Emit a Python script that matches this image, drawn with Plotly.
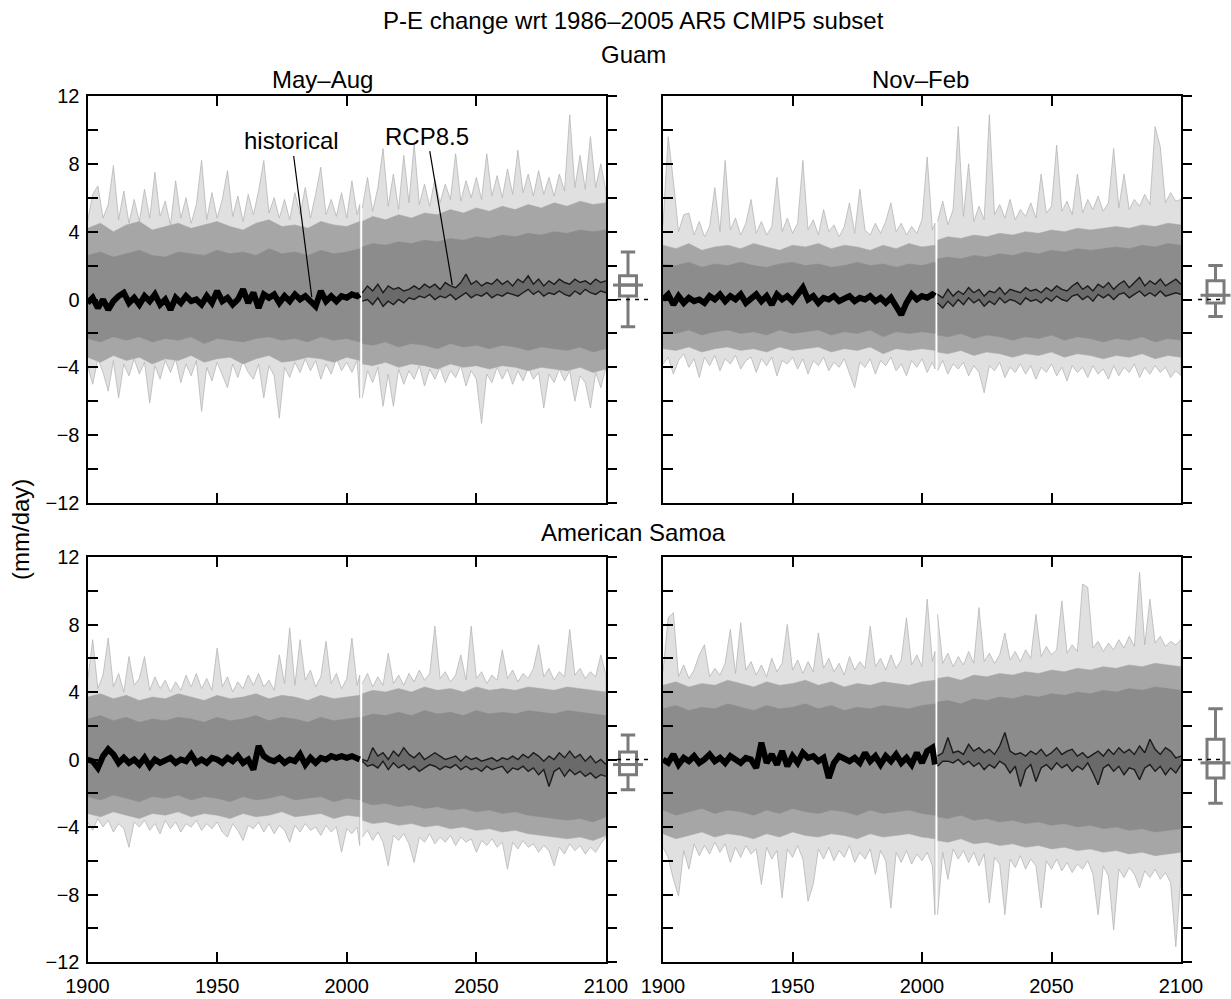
import plotly.graph_objects as go

W, H = 1231, 999
FONT = "Liberation Sans, Arial, Helvetica, sans-serif"

# ---------------- data ----------------
years_hist = list(range(1900, 2005, 2)) + [2005]
years_rcp = list(range(2006, 2101, 2))
years_hist_5 = list(range(1900, 2006, 5))
years_rcp_5 = [2006] + list(range(2010, 2101, 5))

panel_names = ["Guam May–Aug", "Guam Nov–Feb", "American Samoa May–Aug", "American Samoa Nov–Feb"]

# ---- Guam, May–Aug ----
gm_hist_max = [4.6, 6.2, 6.7, 4.8, 5.6, 7.9, 4.7, 6.4, 4.5, 5.9,
               4.6, 6.5, 4.8, 7.5, 4.9, 5.8, 4.4, 7.0, 4.8, 6.0,
               4.5, 5.6, 8.2, 4.7, 6.3, 4.8, 5.9, 7.6, 4.9, 6.1,
               4.6, 6.2, 5.0, 6.4, 8.2, 5.1, 6.0, 4.8, 5.9, 4.7,
               6.3, 5.0, 6.6, 4.8, 6.2, 7.8, 5.0, 5.9, 4.9, 6.3,
               4.8, 7.0, 5.0, 5.6]
gm_hist_min = [-3.9, -5.0, -3.5, -4.3, -5.4, -3.6, -5.8, -3.8, -4.5, -3.5,
               -4.4, -3.7, -6.1, -3.9, -4.7, -3.6, -4.3, -3.5, -4.9, -3.8,
               -4.5, -3.6, -6.6, -4.0, -4.8, -3.7, -4.4, -5.2, -3.8, -4.6,
               -3.6, -4.3, -4.7, -3.8, -5.8, -3.9, -4.5, -7.0, -4.0, -4.6,
               -3.7, -4.3, -3.5, -4.2, -3.6, -4.7, -3.8, -4.4, -3.5, -4.2,
               -3.7, -4.3, -3.6, -5.8]
gm_rcp_max = [5.4, 7.2, 5.2, 6.6, 8.9, 5.5, 7.4, 5.3, 8.5, 5.7,
              9.2, 5.6, 6.8, 5.5, 7.1, 5.7, 6.8, 5.9, 8.6, 5.8,
              7.0, 6.0, 7.2, 5.9, 8.6, 6.1, 7.3, 6.0, 7.7, 6.2,
              8.8, 6.3, 7.4, 6.1, 7.6, 6.2, 7.2, 6.1, 7.4, 6.4,
              10.9, 6.6, 8.5, 6.5, 9.6, 6.6, 8.0, 6.4]
gm_rcp_min = [-5.8, -4.2, -4.9, -4.0, -6.3, -4.4, -6.3, -4.1, -5.0, -4.2,
              -4.7, -3.9, -5.1, -4.1, -4.7, -4.0, -4.9, -4.2, -4.6, -3.9,
              -5.1, -4.2, -4.7, -7.3, -4.4, -4.9, -4.0, -4.7, -4.1, -5.0,
              -4.2, -4.8, -4.0, -4.7, -4.3, -6.4, -4.4, -4.9, -4.1, -4.8,
              -4.2, -6.0, -4.5, -4.9, -6.4, -4.3, -5.2, -4.0]
gm_hist_halo_hi = [4.2, 4.5, 4.0, 4.4, 4.6, 4.1, 4.3, 4.5, 4.2, 4.4,
                   4.6, 4.3, 4.1, 4.5, 4.7, 4.3, 4.4, 4.2, 4.6, 4.4, 4.3, 4.6]
gm_hist_halo_lo = [-3.4, -3.7, -3.3, -3.6, -3.4, -3.8, -3.5, -3.6, -3.3, -3.7,
                   -3.5, -3.4, -3.8, -3.5, -3.3, -3.7, -3.6, -3.4, -3.5, -3.7, -3.4, -3.6]
gm_rcp_halo_hi = [4.6, 4.9, 4.7, 5.0, 4.8, 5.1, 5.0, 5.3, 5.1, 5.4,
                  5.2, 5.5, 5.3, 5.6, 5.4, 5.7, 5.5, 5.8, 5.6, 5.7]
gm_rcp_halo_lo = [-3.8, -3.9, -3.7, -4.0, -3.8, -3.9, -4.1, -3.8, -4.0, -3.9,
                  -4.1, -3.9, -4.0, -4.2, -4.0, -4.1, -4.2, -4.0, -4.3, -4.1]
gm_hist_core_hi = [2.6, 2.8, 2.5, 2.7, 2.9, 2.6, 2.5, 2.8, 2.7, 2.6,
                   2.9, 2.7, 2.8, 2.6, 3.0, 2.7, 2.8, 2.6, 2.9, 2.7, 2.8, 3.0]
gm_hist_core_lo = [-2.3, -2.5, -2.2, -2.4, -2.2, -2.5, -2.3, -2.4, -2.2, -2.6,
                   -2.3, -2.4, -2.5, -2.3, -2.2, -2.4, -2.3, -2.5, -2.2, -2.4, -2.3, -2.5]
gm_rcp_core_hi = [3.1, 3.3, 3.2, 3.4, 3.3, 3.5, 3.4, 3.6, 3.5, 3.7,
                  3.6, 3.8, 3.7, 3.9, 3.8, 4.0, 3.9, 4.1, 4.0, 4.1]
gm_rcp_core_lo = [-2.6, -2.7, -2.5, -2.8, -2.6, -2.7, -2.9, -2.6, -2.8, -2.7,
                  -2.9, -2.7, -2.8, -3.0, -2.8, -2.9, -3.0, -2.8, -3.1, -2.9]
gm_hist_mean = [-0.2, 0.1, -0.5, 0.0, -0.6, -0.1, 0.2, 0.4, -0.2, 0.1,
                -0.3, 0.2, -0.1, 0.3, -0.3, 0.0, -0.6, 0.1, -0.2, 0.2,
                -0.1, 0.0, -0.3, 0.2, -0.2, 0.5, -0.1, 0.1, -0.3, 0.0,
                0.6, -0.2, 0.4, -0.5, 0.3, 0.1, 0.3, -0.2, 0.2, -0.1,
                0.3, 0.0, 0.2, -0.1, -0.4, 0.5, -0.1, 0.2, -0.1, 0.2,
                0.1, 0.3, 0.2, 0.3]
gm_rcp_hi = [0.4, 0.8, 0.5, 0.9, 0.4, 0.8, 0.6, 0.7, 0.5, 0.6,
             0.8, 0.6, 0.9, 0.7, 0.9, 0.6, 1.0, 0.8, 0.7, 1.0,
             1.5, 0.9, 1.1, 0.8, 1.0, 0.9, 1.2, 0.9, 1.1, 0.8,
             1.2, 1.0, 1.4, 0.9, 1.2, 0.8, 1.1, 0.9, 1.2, 1.0,
             0.9, 1.2, 1.0, 1.1, 0.9, 1.2, 1.0, 1.1]
gm_rcp_lo = [-0.1, 0.0, -0.3, 0.1, -0.4, -0.1, -0.3, 0.0, -0.2, 0.1,
             0.0, 0.2, 0.1, 0.3, 0.0, 0.2, 0.1, 0.3, 0.0, 0.2,
             0.4, 0.1, 0.3, 0.2, 0.4, 0.1, 0.3, 0.2, 0.4, 0.3,
             0.2, 0.4, 0.6, 0.3, 0.5, 0.2, 0.4, 0.3, 0.5, 0.3,
             0.2, 0.5, 0.3, 0.6, 0.4, 0.3, 0.5, 0.4]

# ---- Guam, Nov–Feb ----
gn_hist_max = [4.4, 9.6, 7.0, 4.0, 5.0, 5.1, 3.8, 4.6, 3.7, 4.3,
               6.6, 4.0, 8.2, 4.1, 4.8, 3.8, 4.5, 5.9, 3.9, 4.6,
               3.8, 4.3, 7.2, 4.0, 4.8, 3.9, 4.5, 8.2, 4.1, 4.7,
               3.8, 5.3, 4.0, 4.4, 3.7, 4.3, 5.7, 3.9, 6.5, 4.1,
               3.8, 4.5, 3.9, 4.6, 5.7, 4.0, 4.5, 3.8, 4.3, 3.9,
               4.7, 8.4, 4.1, 4.5]
gn_hist_min = [-3.8, -3.4, -4.4, -3.6, -3.2, -4.0, -3.5, -4.6, -3.4, -3.9,
               -3.3, -4.2, -3.5, -3.8, -3.3, -4.1, -3.6, -3.4, -4.3, -3.5,
               -3.9, -3.4, -4.5, -3.6, -3.8, -3.4, -4.1, -3.5, -4.4, -3.6,
               -3.9, -3.4, -4.2, -3.7, -4.0, -3.5, -4.3, -5.2, -3.7, -4.0,
               -3.5, -4.4, -3.6, -3.9, -3.4, -4.2, -3.8, -4.5, -3.6, -4.0,
               -3.5, -4.3, -3.7, -4.1]
gn_rcp_max = [4.6, 5.8, 4.4, 5.3, 10.2, 4.9, 8.0, 4.6, 5.5, 4.7,
              10.9, 5.0, 5.6, 4.8, 5.9, 4.7, 5.3, 4.9, 5.7, 4.8,
              7.4, 5.1, 5.5, 9.1, 5.2, 5.8, 5.0, 7.4, 5.1, 5.9,
              5.3, 6.1, 5.2, 5.7, 8.9, 5.4, 7.4, 5.3, 5.9, 5.5,
              6.2, 5.6, 10.2, 9.0, 5.7, 6.3, 5.8, 5.9]
gn_rcp_min = [-4.2, -3.6, -4.4, -3.8, -4.1, -3.7, -4.5, -3.9, -4.3, -5.5,
              -3.9, -4.2, -3.7, -4.6, -4.0, -4.3, -3.8, -4.4, -3.9, -4.7,
              -4.0, -4.3, -3.8, -4.5, -4.0, -4.8, -3.9, -4.3, -4.0, -4.6,
              -3.9, -4.4, -4.1, -4.7, -3.9, -4.5, -4.0, -4.3, -3.8, -4.6,
              -4.0, -4.4, -3.9, -4.3, -4.0, -4.6, -4.2, -4.5]
gn_hist_halo_hi = [3.2, 3.0, 3.3, 2.9, 3.1, 3.2, 3.0, 3.3, 3.1, 2.9,
                   3.2, 3.1, 3.3, 3.0, 3.2, 3.1, 2.9, 3.2, 3.0, 3.3, 3.1, 3.2]
gn_hist_halo_lo = [-2.9, -3.0, -2.8, -3.1, -2.9, -2.8, -3.0, -2.9, -3.1, -2.8,
                   -3.0, -2.9, -2.8, -3.1, -2.9, -3.0, -2.8, -3.2, -2.9, -3.0, -2.9, -3.0]
gn_rcp_halo_hi = [3.5, 3.7, 3.6, 3.8, 3.7, 3.9, 3.8, 4.0, 3.9, 4.1,
                  4.0, 4.2, 4.1, 4.2, 4.3, 4.2, 4.4, 4.3, 4.5, 4.4]
gn_rcp_halo_lo = [-3.1, -3.2, -3.0, -3.3, -3.1, -3.2, -3.4, -3.2, -3.3, -3.1,
                  -3.4, -3.2, -3.3, -3.5, -3.3, -3.4, -3.2, -3.5, -3.3, -3.4]
gn_hist_core_hi = [2.1, 2.0, 2.2, 1.9, 2.1, 2.0, 2.2, 2.0, 1.9, 2.1,
                   2.2, 2.0, 2.1, 1.9, 2.0, 2.2, 2.0, 2.1, 1.9, 2.1, 2.0, 2.2]
gn_hist_core_lo = [-1.9, -2.0, -1.8, -2.1, -1.9, -1.8, -2.0, -1.9, -2.1, -1.8,
                   -2.0, -1.9, -1.8, -2.1, -1.9, -2.0, -1.8, -2.2, -1.9, -2.0, -1.9, -2.0]
gn_rcp_core_hi = [2.4, 2.5, 2.4, 2.6, 2.5, 2.7, 2.6, 2.8, 2.7, 2.9,
                  2.8, 3.0, 2.9, 3.0, 3.1, 3.0, 3.2, 3.1, 3.3, 3.2]
gn_rcp_core_lo = [-2.1, -2.2, -2.0, -2.3, -2.1, -2.2, -2.4, -2.2, -2.3, -2.1,
                  -2.4, -2.2, -2.3, -2.5, -2.3, -2.4, -2.2, -2.5, -2.3, -2.4]
gn_hist_mean = [0.0, 0.3, -0.3, 0.2, -0.2, 0.1, -0.1, 0.0, -0.2, 0.2,
                0.0, 0.3, -0.1, 0.2, 0.0, 0.3, -0.2, 0.1, 0.3, -0.1,
                0.2, -0.3, 0.3, 0.0, 0.2, -0.1, 0.3, 0.7, 0.0, 0.2,
                -0.2, 0.1, 0.0, 0.2, -0.1, 0.1, 0.2, -0.1, 0.1, 0.0,
                0.2, -0.1, 0.1, -0.2, 0.1, -0.4, -0.9, -0.2, 0.3, 0.0,
                0.2, 0.1, 0.3, 0.2]
gn_rcp_hi = [0.3, 0.1, 0.6, 0.2, 0.5, 0.3, 0.7, 0.4, 0.6, 0.2,
             0.5, 0.4, 0.7, 0.3, 0.6, 0.5, 0.4, 0.7, 0.5, 0.6,
             0.4, 0.7, 0.5, 0.8, 0.6, 0.5, 0.8, 1.0, 0.6, 0.8,
             0.5, 0.9, 0.7, 1.0, 0.6, 0.9, 1.1, 0.7, 1.0, 1.3,
             0.8, 1.1, 0.9, 1.2, 0.8, 1.0, 1.2, 0.9]
gn_rcp_lo = [-0.2, -0.5, -0.1, -0.4, 0.0, -0.3, 0.1, -0.2, 0.0, -0.4,
             -0.1, -0.3, 0.1, -0.2, 0.0, -0.1, -0.3, 0.1, -0.1, 0.0,
             -0.2, 0.1, -0.1, 0.2, 0.0, -0.1, 0.2, 0.3, 0.0, 0.2,
             -0.1, 0.3, 0.1, 0.3, 0.0, 0.3, 0.4, 0.1, 0.3, 0.5,
             0.2, 0.4, 0.2, 0.5, 0.2, 0.3, 0.4, 0.3]

# ---- American Samoa, May–Aug ----
sm_hist_max = [4.6, 7.1, 4.2, 5.0, 7.2, 4.3, 5.1, 4.0, 6.1, 4.4,
               4.8, 6.1, 4.1, 4.9, 4.2, 4.7, 4.0, 4.6, 4.1, 5.0,
               4.3, 5.1, 4.2, 4.8, 4.1, 6.6, 4.3, 4.9, 4.0, 4.6,
               4.2, 5.0, 4.4, 5.1, 4.3, 4.7, 4.1, 6.2, 4.5, 7.8,
               4.4, 7.1, 4.7, 5.3, 4.3, 4.9, 7.0, 4.5, 5.1, 4.2,
               4.8, 7.2, 4.4, 5.0]
sm_hist_min = [-3.7, -4.2, -3.5, -4.0, -3.6, -4.3, -3.8, -4.1, -5.2, -3.7,
               -4.0, -3.6, -4.2, -3.8, -4.4, -3.6, -4.1, -3.7, -4.3, -3.8,
               -4.0, -3.6, -4.2, -3.8, -4.1, -3.7, -4.3, -4.6, -3.8, -4.2,
               -4.8, -3.9, -4.1, -3.7, -4.3, -3.8, -4.4, -3.9, -4.2, -4.9,
               -3.9, -4.3, -3.8, -4.2, -4.0, -4.5, -3.9, -4.3, -4.0, -5.5,
               -4.1, -4.4, -4.0, -5.1]
sm_rcp_max = [4.5, 5.1, 4.3, 4.9, 4.4, 6.3, 4.5, 5.0, 4.4, 5.1,
              4.6, 5.3, 4.7, 5.1, 7.9, 4.8, 5.2, 4.6, 5.0, 6.2,
              4.7, 7.9, 4.8, 5.2, 4.5, 5.0, 4.7, 6.5, 4.8, 5.3,
              4.6, 5.1, 4.8, 5.4, 6.8, 4.9, 5.4, 4.7, 5.2, 4.9,
              7.7, 5.0, 5.4, 4.8, 5.2, 4.9, 6.2, 5.0]
sm_rcp_min = [-4.6, -4.2, -4.8, -4.3, -4.9, -6.3, -4.5, -4.8, -4.4, -5.0,
              -6.1, -4.6, -4.9, -4.4, -5.0, -4.6, -4.9, -4.5, -5.1, -4.6,
              -4.9, -4.7, -5.5, -4.8, -5.1, -4.7, -5.2, -4.9, -6.5, -4.9,
              -5.3, -4.8, -5.2, -5.0, -5.5, -5.1, -5.4, -6.3, -5.2, -5.6,
              -5.0, -5.4, -5.1, -5.6, -5.2, -5.5, -5.0, -4.6]
sm_hist_halo_hi = [3.7, 3.9, 3.6, 3.8, 3.5, 3.7, 3.6, 3.9, 3.7, 3.5,
                   3.8, 3.6, 3.7, 3.9, 3.6, 3.8, 3.7, 3.5, 3.8, 3.6, 3.7, 3.8]
sm_hist_halo_lo = [-3.2, -3.4, -3.1, -3.3, -3.5, -3.2, -3.3, -3.1, -3.4, -3.2,
                   -3.3, -3.5, -3.2, -3.4, -3.3, -3.1, -3.4, -3.3, -3.2, -3.5, -3.3, -3.4]
sm_rcp_halo_hi = [3.9, 4.1, 4.0, 4.2, 4.0, 4.3, 4.1, 4.2, 4.0, 4.3,
                  4.1, 4.2, 4.1, 4.3, 4.2, 4.1, 4.3, 4.2, 4.1, 4.0]
sm_rcp_halo_lo = [-3.6, -3.8, -3.7, -3.9, -3.8, -4.0, -3.9, -4.1, -4.0, -4.2,
                  -4.1, -4.3, -4.2, -4.4, -4.5, -4.6, -4.7, -4.6, -4.8, -4.5]
sm_hist_core_hi = [2.4, 2.6, 2.3, 2.5, 2.2, 2.4, 2.3, 2.5, 2.4, 2.2,
                   2.5, 2.3, 2.4, 2.6, 2.3, 2.5, 2.4, 2.2, 2.5, 2.3, 2.4, 2.5]
sm_hist_core_lo = [-2.2, -2.4, -2.1, -2.3, -2.5, -2.2, -2.3, -2.1, -2.4, -2.2,
                   -2.3, -2.5, -2.2, -2.4, -2.3, -2.1, -2.4, -2.3, -2.2, -2.5, -2.3, -2.4]
sm_rcp_core_hi = [2.5, 2.7, 2.6, 2.8, 2.6, 2.9, 2.7, 2.8, 2.6, 2.9,
                  2.7, 2.8, 2.7, 2.9, 2.8, 2.7, 2.9, 2.8, 2.7, 2.6]
sm_rcp_core_lo = [-2.5, -2.7, -2.6, -2.8, -2.7, -2.9, -2.8, -3.0, -2.9, -3.1,
                  -3.0, -3.2, -3.1, -3.3, -3.4, -3.5, -3.6, -3.5, -3.7, -3.4]
sm_hist_mean = [0.0, -0.1, -0.5, 0.2, 0.6, 0.3, -0.2, 0.1, -0.2, 0.0,
                -0.3, 0.1, -0.4, 0.0, -0.2, 0.0, 0.1, -0.2, 0.0, -0.1,
                0.3, -0.2, 0.0, -0.2, 0.1, 0.0, -0.2, 0.1, -0.1, 0.2,
                -0.2, 0.0, -0.6, 0.8, 0.2, 0.0, -0.1, 0.1, -0.2, 0.0,
                -0.1, 0.3, -0.3, 0.1, -0.2, 0.1, 0.0, 0.2, 0.1, 0.2,
                0.1, 0.2, 0.1, 0.0]
sm_rcp_hi = [0.0, -0.1, 0.7, 0.2, 0.4, 0.0, 0.5, 0.2, 0.7, 0.3,
             0.1, 0.4, 0.0, 0.2, 0.4, 0.2, 0.0, 0.1, 0.2, -0.1,
             0.2, 0.0, 0.1, -0.1, 0.0, 0.1, -0.1, 0.1, 0.0, 0.2,
             0.0, 0.3, 0.1, 0.4, 0.2, -0.1, 0.2, 0.0, 0.4, 0.1,
             0.5, 0.1, 0.3, -0.1, 0.2, -0.2, 0.0, -0.3]
sm_rcp_lo = [-0.1, -0.4, -0.3, -0.5, -0.1, -0.6, -0.2, -0.5, -0.3, -0.6,
             -0.4, -0.7, -0.5, -0.3, -0.4, -0.6, -0.4, -0.5, -0.3, -0.6,
             -0.4, -0.6, -0.5, -0.7, -0.4, -0.6, -0.5, -0.4, -0.8, -0.5,
             -0.6, -0.4, -0.7, -0.5, -0.9, -0.6, -1.6, -0.7, -0.5, -1.0,
             -0.6, -0.9, -0.7, -1.0, -0.8, -1.1, -0.9, -1.0]

# ---- American Samoa, Nov–Feb ----
sn_hist_max = [5.2, 8.4, 8.7, 4.9, 5.6, 4.8, 5.3, 6.2, 6.8, 4.9,
               5.4, 5.0, 5.7, 7.7, 5.1, 8.1, 5.3, 5.8, 5.0, 5.6,
               4.9, 6.0, 5.2, 5.7, 8.0, 5.3, 5.9, 5.1, 5.8, 5.2,
               7.5, 5.4, 6.0, 5.2, 5.7, 5.0, 6.1, 5.3, 5.8, 5.4,
               7.9, 5.5, 6.0, 5.3, 6.2, 5.4, 5.9, 8.4, 5.6, 6.2,
               5.5, 9.5, 5.8, 6.4]
sn_hist_min = [-5.2, -5.8, -7.1, -8.1, -5.4, -6.5, -5.0, -5.7, -5.1, -5.6,
               -4.9, -5.5, -5.0, -6.1, -5.2, -5.8, -5.1, -5.6, -5.3, -7.4,
               -5.2, -5.9, -5.4, -8.2, -5.3, -5.8, -5.1, -5.9, -8.4, -7.4,
               -5.3, -5.9, -5.2, -6.0, -5.4, -5.8, -5.1, -6.1, -5.5, -5.9,
               -5.3, -6.8, -5.4, -6.0, -8.8, -5.5, -6.1, -5.4, -6.2, -5.6,
               -6.0, -5.5, -6.3, -9.2]
sn_rcp_max = [8.6, 5.7, 6.3, 5.5, 6.1, 5.6, 6.4, 5.7, 9.0, 5.8,
              6.3, 5.7, 6.2, 7.5, 5.9, 6.4, 5.8, 6.5, 6.0, 8.6,
              6.1, 6.7, 6.2, 6.5, 9.4, 6.3, 6.8, 6.4, 10.4, 10.2,
              6.6, 7.0, 6.4, 6.9, 6.5, 7.1, 6.6, 7.3, 6.7, 11.1,
              6.8, 9.5, 6.9, 7.3, 6.7, 7.0, 6.8, 7.1]
sn_rcp_min = [-9.2, -5.5, -7.1, -5.3, -5.9, -5.4, -6.1, -5.5, -6.3, -5.6,
              -8.5, -5.8, -6.2, -9.2, -5.9, -6.4, -5.7, -6.5, -5.9, -6.3,
              -8.8, -6.0, -6.5, -5.9, -6.6, -6.1, -6.7, -6.2, -6.5, -6.0,
              -6.8, -9.2, -6.3, -6.9, -10.1, -6.5, -7.0, -6.4, -6.8, -7.6,
              -6.6, -7.0, -6.5, -7.1, -6.7, -7.3, -11.1, -6.9]
sn_hist_halo_hi = [4.4, 4.6, 4.3, 4.5, 4.4, 4.7, 4.5, 4.3, 4.6, 4.4,
                   4.5, 4.7, 4.4, 4.6, 4.3, 4.5, 4.4, 4.6, 4.5, 4.4, 4.6, 4.7]
sn_hist_halo_lo = [-4.4, -4.7, -4.5, -4.3, -4.6, -4.4, -4.5, -4.7, -4.4, -4.6,
                   -4.3, -4.5, -4.6, -4.4, -4.5, -4.7, -4.4, -4.6, -4.5, -4.4, -4.6, -4.7]
sn_rcp_halo_hi = [4.8, 4.9, 4.7, 5.0, 4.9, 5.1, 5.0, 5.2, 5.1, 5.3,
                  5.2, 5.4, 5.3, 5.5, 5.4, 5.6, 5.5, 5.7, 5.6, 5.5]
sn_rcp_halo_lo = [-4.8, -4.9, -4.7, -5.0, -4.9, -5.1, -5.0, -5.2, -5.1, -5.3,
                  -5.2, -5.4, -5.3, -5.5, -5.4, -5.6, -5.5, -5.7, -5.6, -5.5]
sn_hist_core_hi = [3.0, 3.2, 2.9, 3.1, 3.0, 3.3, 3.1, 2.9, 3.2, 3.0,
                   3.1, 3.3, 3.0, 3.2, 2.9, 3.1, 3.0, 3.2, 3.1, 3.0, 3.2, 3.3]
sn_hist_core_lo = [-3.0, -3.3, -3.1, -2.9, -3.2, -3.0, -3.1, -3.3, -3.0, -3.2,
                   -2.9, -3.1, -3.2, -3.0, -3.1, -3.3, -3.0, -3.2, -3.1, -3.0, -3.2, -3.3]
sn_rcp_core_hi = [3.4, 3.5, 3.3, 3.6, 3.5, 3.7, 3.6, 3.8, 3.7, 3.9,
                  3.8, 4.0, 3.9, 4.1, 4.0, 4.2, 4.1, 4.3, 4.2, 4.1]
sn_rcp_core_lo = [-3.4, -3.5, -3.3, -3.6, -3.5, -3.7, -3.6, -3.8, -3.7, -3.9,
                  -3.8, -4.0, -3.9, -4.1, -4.0, -4.2, -4.1, -4.3, -4.2, -4.1]
sn_hist_mean = [0.0, -0.2, 0.3, -0.3, 0.1, -0.1, 0.2, -0.2, 0.0, 0.3,
                -0.1, 0.1, -0.2, 0.2, 0.0, -0.2, 0.1, 0.0, -0.5, 1.0,
                -0.2, 0.3, -0.3, 0.5, -0.4, 0.2, -0.2, 0.4, 0.1, 0.2,
                -0.1, 0.1, -1.1, -0.2, 0.2, 0.0, -0.1, 0.1, -0.2, 0.4,
                -0.1, 0.2, -0.3, 0.2, -0.1, 0.3, -0.2, 0.1, -0.3, 0.4,
                -0.2, 0.5, 0.7, -0.3]
sn_rcp_hi = [0.2, 0.4, 1.3, 0.4, 0.5, 0.3, 0.9, 0.5, 0.7, 0.4,
             0.6, 0.3, 0.8, 1.6, 0.5, 0.3, 0.4, 0.2, 0.5, 0.3,
             0.6, 0.2, 0.4, 0.7, 0.3, 0.5, 0.6, 0.2, 0.4, 0.1,
             0.3, 0.5, 0.2, 0.6, 0.3, 0.7, 0.4, 0.6, 0.3, 0.8,
             0.4, 1.2, 0.6, 0.3, 0.7, 0.5, 0.1, 0.2]
sn_rcp_lo = [-0.4, -0.1, -0.1, -0.2, 0.0, -0.3, -0.1, -0.4, -0.2, -0.6,
             -0.3, -0.5, -0.1, -0.3, -0.8, -0.4, -1.6, -0.6, -0.3, -1.3,
             -0.5, -0.3, -0.6, -0.2, -0.5, -0.3, -0.7, -0.4, -0.6, -0.2,
             -0.8, -1.5, -0.5, -0.3, -0.7, -0.4, -0.9, -0.5, -0.6, -1.2,
             -0.5, -0.3, -0.7, -0.4, -0.9, -0.5, -0.8, -0.3]

# model spread summaries shown right of each panel, order = panel_names
box_low = [-1.6, -1.0, -1.8, -2.6]
box_q1 = [0.2, -0.2, -0.9, -1.1]
box_med = [0.85, 0.25, -0.3, -0.2]
box_q3 = [1.4, 1.1, 0.45, 1.2]
box_high = [2.8, 2.0, 1.45, 3.0]

y_tickvals = list(range(-12, 13, 2))
y_ticktext = ["−12", "", "−8", "", "−4", "", "0", "", "4", "", "8", "", "12"]
x_tickvals = [1900, 1950, 2000, 2050, 2100]

def pack(pre):
    g = globals()
    return {k: g[f"{pre}_{k}"] for k in
            ["hist_max", "hist_min", "rcp_max", "rcp_min",
             "hist_halo_hi", "hist_halo_lo", "rcp_halo_hi", "rcp_halo_lo",
             "hist_core_hi", "hist_core_lo", "rcp_core_hi", "rcp_core_lo",
             "hist_mean", "rcp_hi", "rcp_lo"]}

panels = [pack("gm"), pack("gn"), pack("sm"), pack("sn")]

# ---------------- layout geometry (pixels) ----------------
plot_x = [(87.5, 606), (663, 1181), (87.5, 606), (663, 1181)]
plot_y = [(96, 503), (96, 503), (557, 962), (557, 962)]
box_x = [(606, 652, 628), (1181, 1231, 1215.5), (606, 652, 628), (1181, 1231, 1215.5)]
zero_dash = [(0.24, 0.96), (0.34, 0.82), (0.24, 0.96), (0.34, 0.82)]

def xdom(a, b):
    return [a / W, b / W]

def ydom(top, bottom):
    return [1 - bottom / H, 1 - top / H]

OUTER_FILL = "#e0e0e0"
OUTER_LINE = "#b6b6b6"
HALO_FILL = "#a6a6a6"
CORE_FILL = "#8c8c8c"

fig = go.Figure()
layout = dict()
shapes = []

for i, p in enumerate(panels):
    n = i + 1
    xa = "x" if n == 1 else f"x{n}"
    ya = "y" if n == 1 else f"y{n}"
    xb = f"x{n + 4}"
    yr = f"y{n + 4}"

    def poly(xs, hi, lo, fill, lc, lw):
        fig.add_trace(go.Scatter(
            x=list(xs) + list(xs)[::-1], y=list(hi) + list(lo)[::-1],
            fill="toself", fillcolor=fill, mode="lines",
            line=dict(color=lc, width=lw), xaxis=xa, yaxis=ya,
            hoverinfo="skip", showlegend=False))

    # ensemble members: full envelope, outer halo and dense core
    poly(years_hist, p["hist_max"], p["hist_min"], OUTER_FILL, OUTER_LINE, 0.8)
    poly(years_rcp, p["rcp_max"], p["rcp_min"], OUTER_FILL, OUTER_LINE, 0.8)
    poly(years_hist_5, p["hist_halo_hi"], p["hist_halo_lo"], HALO_FILL, HALO_FILL, 0.5)
    poly(years_rcp_5, p["rcp_halo_hi"], p["rcp_halo_lo"], HALO_FILL, HALO_FILL, 0.5)
    poly(years_hist_5, p["hist_core_hi"], p["hist_core_lo"], CORE_FILL, CORE_FILL, 0.5)
    poly(years_rcp_5, p["rcp_core_hi"], p["rcp_core_lo"], CORE_FILL, CORE_FILL, 0.5)

    # historical multi-model mean
    fig.add_trace(go.Scatter(x=years_hist, y=p["hist_mean"], mode="lines",
                             line=dict(color="black", width=6),
                             xaxis=xa, yaxis=ya, hoverinfo="skip", showlegend=False))
    # RCP8.5 mean band
    poly(years_rcp, p["rcp_hi"], p["rcp_lo"], "#6a6a6a", "rgba(0,0,0,0)", 0)
    for arr in (p["rcp_hi"], p["rcp_lo"]):
        fig.add_trace(go.Scatter(x=years_rcp, y=arr, mode="lines",
                                 line=dict(color="#1c1c1c", width=1.4),
                                 xaxis=xa, yaxis=ya, hoverinfo="skip", showlegend=False))

    # box symbol beside the panel
    fig.add_trace(go.Box(x=[0], q1=[box_q1[i]], median=[box_med[i]], q3=[box_q3[i]],
                         lowerfence=[box_low[i]], upperfence=[box_high[i]],
                         width=17, whiskerwidth=0.85, boxpoints=False,
                         line=dict(color="#7b7b7b", width=3), fillcolor="rgba(255,255,255,0)",
                         xaxis=xb, yaxis=ya, hoverinfo="skip", showlegend=False))
    fig.add_trace(go.Scatter(x=[-15, 15], y=[box_med[i], box_med[i]], mode="lines",
                             line=dict(color="#7b7b7b", width=3),
                             xaxis=xb, yaxis=ya, hoverinfo="skip", showlegend=False))
    shapes.append(dict(type="line", xref=f"{xb} domain", yref=ya,
                       x0=zero_dash[i][0], x1=zero_dash[i][1], y0=0, y1=0,
                       line=dict(color="black", width=1.5, dash="4px,5px")))

    # invisible trace so the right-hand tick axis is drawn
    fig.add_trace(go.Scatter(x=[1950], y=[0], mode="markers", marker=dict(opacity=0),
                             xaxis=xa, yaxis=yr, hoverinfo="skip", showlegend=False))

    px0, px1 = plot_x[i]
    pt, pb = plot_y[i]
    common = dict(showgrid=False, zeroline=False, tickcolor="black", tickwidth=1.5,
                  ticklen=10, automargin=False,
                  tickfont=dict(family=FONT, size=20, color="black"))
    layout["xaxis" if n == 1 else f"xaxis{n}"] = dict(
        domain=xdom(px0, px1), range=[1900, 2100], anchor=ya,
        tickvals=x_tickvals, ticks="inside", showline=True, linewidth=2,
        linecolor="black", mirror="ticks", showticklabels=(i >= 2),
        ticklabelstandoff=5, **common)
    layout["yaxis" if n == 1 else f"yaxis{n}"] = dict(
        domain=ydom(pt, pb), range=[-12, 12], anchor=xa,
        tickvals=y_tickvals, ticktext=y_ticktext, ticks="inside",
        showline=True, linewidth=2, linecolor="black", mirror=True,
        showticklabels=(i in (0, 2)), ticklabelstandoff=2, **common)
    layout[f"yaxis{n + 4}"] = dict(
        overlaying=ya, side="right", anchor=xa, range=[-12, 12],
        tickvals=y_tickvals, ticks="outside", showline=False,
        showticklabels=False, **common)
    b0, b1, bc = box_x[i]
    layout[f"xaxis{n + 4}"] = dict(domain=xdom(b0, b1), range=[b0 - bc, b1 - bc],
                                   anchor=ya, visible=False, showgrid=False,
                                   zeroline=False, automargin=False)

def ann(text, x, y, size=24, **kw):
    d = dict(text=text, x=x / W, y=1 - y / H, xref="paper", yref="paper",
             showarrow=False, xanchor="center", yanchor="middle",
             font=dict(family=FONT, size=size, color="black"))
    d.update(kw)
    return d

annotations = [
    ann("P-E change wrt 1986–2005 AR5 CMIP5 subset", 633, 21),
    ann("Guam", 633, 55),
    ann("May–Aug", 322, 79),
    ann("Nov–Feb", 920, 79),
    ann("American Samoa", 633, 532),
    ann("(mm/day)", 20, 530, textangle=-90),
    dict(text="historical", x=1986.5, y=0.15, xref="x", yref="y",
         ax=-20, ay=-156, showarrow=True, arrowhead=0, arrowwidth=1.2,
         arrowcolor="black", font=dict(family=FONT, size=24, color="black")),
    dict(text="RCP8.5", x=2040.7, y=0.85, xref="x", yref="y",
         ax=-25, ay=-149, showarrow=True, arrowhead=0, arrowwidth=1.2,
         arrowcolor="black", font=dict(family=FONT, size=24, color="black")),
]

fig.update_layout(
    template="none",
    width=W, height=H, margin=dict(l=0, r=0, t=0, b=0, pad=0),
    paper_bgcolor="white", plot_bgcolor="white", showlegend=False,
    annotations=annotations, shapes=shapes,
    font=dict(family=FONT, size=20, color="black"),
    **layout)

fig.write_html("out.html", config={"displayModeBar": False},
               post_script="document.body.style.margin='0px';document.body.style.overflow='hidden';")
